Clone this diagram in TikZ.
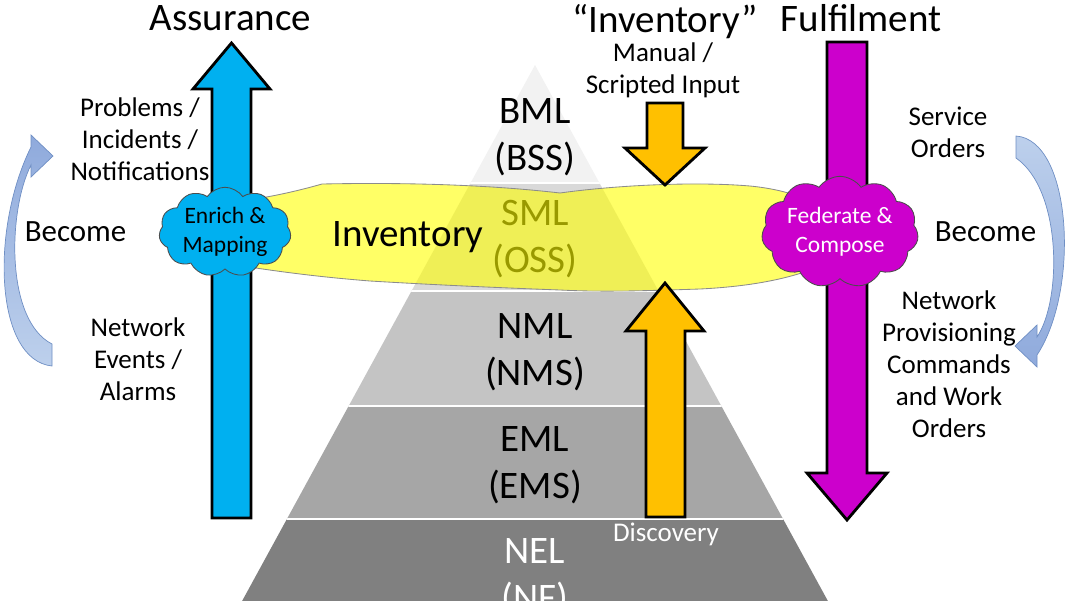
\documentclass[tikz,border=0pt]{standalone}
\usepackage{fontspec}
\setmainfont{Carlito}
\usetikzlibrary{shapes.symbols}

\definecolor{assureblue}{HTML}{00B0F0}
\definecolor{fulfilpurple}{HTML}{CC00CC}
\definecolor{invorange}{HTML}{FFC000}
\definecolor{invyellow}{HTML}{FFFF00}
\definecolor{bmlgray}{HTML}{F2F2F2}
\definecolor{smlgray}{HTML}{D9D9D9}
\definecolor{nmlgray}{HTML}{C4C4C4}
\definecolor{emlgray}{HTML}{A6A6A6}
\definecolor{nelgray}{HTML}{808080}
\definecolor{becomedark}{HTML}{8FAADC}
\definecolor{becomelight}{HTML}{BDD0EC}
\definecolor{becomeedge}{HTML}{6F8FC4}

\newcommand{\fsTitle}{\fontsize{27.7}{33.4}\selectfont}
\newcommand{\fsBecome}{\fontsize{22}{26}\selectfont}
\newcommand{\fsLabel}{\fontsize{19.2}{22.8}\selectfont}
\newcommand{\fsCloud}{\fontsize{16.7}{20.6}\selectfont}

\begin{document}
\begin{tikzpicture}[
    x=0.025cm, y=-0.025cm,
    title/.style={font=\fsTitle, inner sep=0pt},
    layer/.style={font=\fsTitle, align=center, inner sep=0pt},
    txt/.style={font=\fsLabel, align=center, inner sep=0pt},
    become/.style={font=\fsBecome, inner sep=0pt},
    blockarrow/.style={draw=black, line width=2pt, line join=miter},
    cloudbox/.style={cloud, cloud puffs=11, cloud puff arc=110, aspect=1.6, draw=black!70, line width=0.6pt,
        minimum width=3.3cm, minimum height=2.05cm, inner sep=0pt, align=center, font=\fsCloud},
    band/.style={fill=invyellow, fill opacity=0.6, draw=black!45, line width=0.6pt},
    curved/.style={draw=becomeedge, line width=0.5pt}
]

\useasboundingbox (0,0) rectangle (1068,600);
\clip (0,0) rectangle (1068,600);

% Pyramid layers
\begin{scope}
    \clip (535,65) -- (188,700) -- (882,700) -- cycle;
    \fill[bmlgray] (0,0) rectangle (1068,183);
    \fill[smlgray] (0,183) rectangle (1068,291);
    \fill[nmlgray] (0,291) rectangle (1068,406);
    \fill[emlgray] (0,406) rectangle (1068,519);
    \fill[nelgray] (0,519) rectangle (1068,700);
    \foreach \yy in {183,291,406,519}
        \draw[white, line width=1.8pt] (0,\yy) -- (1068,\yy);
\end{scope}

\node[layer] (bml) at (535,137) {BML\\(BSS)};
\node[layer] (sml) at (535,239) {SML\\(OSS)};
\node[layer] (nml) at (535,352) {NML\\(NMS)};
\node[layer] (eml) at (535,465) {EML\\(EMS)};
\node[layer, text=white] (nel) at (535,577) {NEL\\(NF)};

% Assurance / Fulfilment arrows
\draw[blockarrow, fill=assureblue] (212,518) -- (212,89) -- (193,89) -- (231.5,43) -- (270,89) -- (251,89) -- (251,518) -- cycle;
\draw[blockarrow, fill=fulfilpurple] (827,42) -- (827,473) -- (807,473) -- (847,520) -- (887,473) -- (867,473) -- (867,42) -- cycle;

% Inventory band
\draw[band] (215,205) .. controls (250,200) and (280,196) .. (322,184)
    .. controls (420,182) and (500,186) .. (560,193)
    .. controls (610,186) and (690,181) .. (750,186)
    .. controls (790,190) and (810,200) .. (830,212) -- (830,262)
    .. controls (800,276) and (760,286) .. (700,289)
    .. controls (640,291) and (600,292) .. (560,290)
    .. controls (480,287) and (420,284) .. (370,281)
    .. controls (320,277) and (280,272) .. (230,264) -- cycle;
\node[title] (inv) at (408,237) {Inventory};

% Inventory inputs
\draw[blockarrow, fill=invorange] (647,103) -- (647,148) -- (625,148) -- (665,185) -- (705,148) -- (683,148) -- (683,103) -- cycle;
\draw[blockarrow, fill=invorange] (646,517) -- (646,331) -- (626,331) -- (665,283) -- (704,331) -- (685,331) -- (685,517) -- cycle;

% Clouds
\node[cloudbox, fill=assureblue] (enrich) at (225,232) {Enrich \&\\Mapping};
\node[cloudbox, fill=fulfilpurple, text=white] (federate) at (840,232) {Federate \&\\Compose};

% Titles
\node[title] (assure) at (230.5,18) {Assurance};
\node[title] (invtitle) at (665,22) {“Inventory”};
\node[title] (fulfil) at (861,18) {Fulfilment};

% Labels
\node[txt] (manual) at (663,70) {Manual /\\Scripted Input};
\node[txt, text=white] (discovery) at (666,534.5) {Discovery};
\node[txt] (problems) at (140,139) {Problems /\\Incidents /\\Notifications};
\node[txt] (events) at (138,359) {Network\\Events /\\Alarms};
\node[txt] (orders) at (948,132) {Service\\Orders};
\node[txt] (commands) at (949,364) {Network\\Provisioning\\Commands\\and Work\\Orders};
\node[become] (becomeL) at (75.5,232) {Become};
\node[become] (becomeR) at (985.5,232) {Become};

% Become arrows
\draw[curved, top color=becomedark, bottom color=becomelight] (52,344) -- (52,366)
    .. controls (-5,360) and (-10,230) .. (31,147) -- (31,135) -- (53,156) -- (31,177) -- (31,165)
    .. controls (8,210) and (5,320) .. (52,344) -- cycle;
\draw[curved, top color=becomelight, bottom color=becomedark] (1016,158) -- (1016,136)
    .. controls (1072,140) and (1080,290) .. (1037,355) -- (1037,367) -- (1015,346) -- (1037,325) -- (1037,337)
    .. controls (1062,300) and (1062,190) .. (1016,158) -- cycle;

\end{tikzpicture}
\end{document}
